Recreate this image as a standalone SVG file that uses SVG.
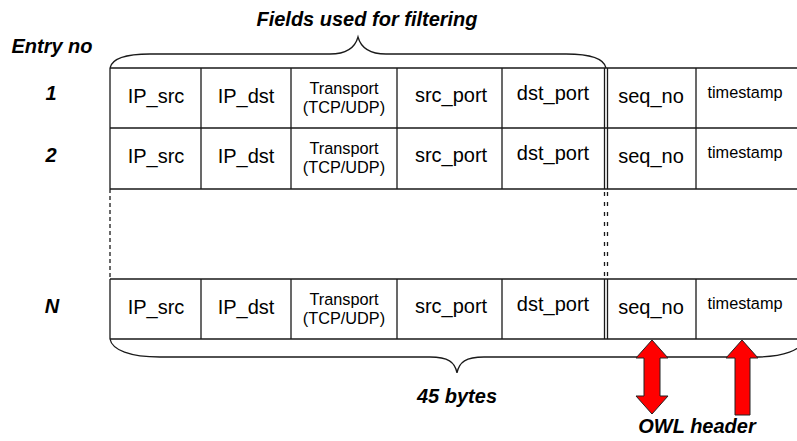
<svg xmlns="http://www.w3.org/2000/svg" width="797" height="441" viewBox="0 0 797 441">
<style>
.ln{stroke:#1a1a1a;stroke-width:1.3;fill:none}
.dsh{stroke:#1a1a1a;stroke-width:1.3;fill:none;stroke-dasharray:4,3}
.dsh2{stroke:#1a1a1a;stroke-width:1.3;fill:none;stroke-dasharray:4,6}
.f{font-family:"Liberation Sans",Arial,sans-serif;font-size:20px;fill:#000;text-anchor:middle}
.s{font-family:"Liberation Sans",Arial,sans-serif;font-size:16.3px;fill:#000;text-anchor:middle}
.b{font-family:"Liberation Sans",Arial,sans-serif;font-size:20px;font-weight:bold;font-style:italic;fill:#000;text-anchor:middle}
.arr{fill:#ff0000;stroke:#222;stroke-width:1}
</style>
<rect width="797" height="441" fill="#fff"/>
<g id="labels">
<text class="b" x="367" y="26">Fields used for filtering</text>
<text class="b" x="52" y="53">Entry no</text>
<text class="b" x="51" y="100">1</text>
<text class="b" x="51" y="162">2</text>
<text class="b" x="52" y="313">N</text>
<text class="b" x="457" y="403">45 bytes</text>
<text class="b" x="697" y="433">OWL header</text>
</g>
<g id="row1">
<path class="ln" d="M110,68H800M110,128H800M110,68V128M201,68V128M291,68V128M397,68V128M502,68V128M604.5,68V128M607.5,68V128M696,68V128"/>
<text class="f" x="156" y="102.5">IP_src</text>
<text class="f" x="246" y="102.5">IP_dst</text>
<text class="s" x="344" y="93.5">Transport</text>
<text class="s" x="344" y="113">(TCP/UDP)</text>
<text class="f" x="451" y="102">src_port</text>
<text class="f" x="553" y="100">dst_port</text>
<text class="f" x="651" y="102.5">seq_no</text>
<text class="s" x="745" y="98">timestamp</text>
</g>
<g id="row2">
<path class="ln" d="M110,189H800M110,128V189M201,128V189M291,128V189M397,128V189M502,128V189M604.5,128V189M607.5,128V189M696,128V189"/>
<text class="f" x="156" y="162.5">IP_src</text>
<text class="f" x="246" y="162.5">IP_dst</text>
<text class="s" x="344" y="153.5">Transport</text>
<text class="s" x="344" y="173">(TCP/UDP)</text>
<text class="f" x="451" y="162">src_port</text>
<text class="f" x="553" y="160">dst_port</text>
<text class="f" x="651" y="162.5">seq_no</text>
<text class="s" x="745" y="158">timestamp</text>
</g>
<g id="gap">
<path class="dsh" d="M110,189V279"/>
<path class="dsh2" d="M604.5,192V279M607.5,192V279"/>
</g>
<g id="rowN">
<path class="ln" d="M110,279H800M110,339H800M110,279V339M201,279V339M291,279V339M397,279V339M502,279V339M604.5,279V339M607.5,279V339M696,279V339"/>
<text class="f" x="156" y="313.5">IP_src</text>
<text class="f" x="246" y="313.5">IP_dst</text>
<text class="s" x="344" y="304.5">Transport</text>
<text class="s" x="344" y="324">(TCP/UDP)</text>
<text class="f" x="451" y="313">src_port</text>
<text class="f" x="553" y="311">dst_port</text>
<text class="f" x="651" y="313.5">seq_no</text>
<text class="s" x="745" y="309">timestamp</text>
</g>
<g id="connectors">
<path class="ln" d="M110,68C112,58 128,54 150,54L330,54C346,54 355,48 358,37C361,48 370,54 386,54L566,54C588,54 604,58 606,68"/>
<path class="ln" d="M110,339C112,350 130,357 160,357L430,357C448,357 455,362 457,373C459,362 466,357 484,357L754,357C784,357 802,350 804,339"/>
<path class="arr" d="M652,340L668,358H660V396H668L652,414L636,396H644V358H636Z"/>
<path class="arr" d="M742,340L758,358H750V415H735V358H726Z"/>
</g>
</svg>
